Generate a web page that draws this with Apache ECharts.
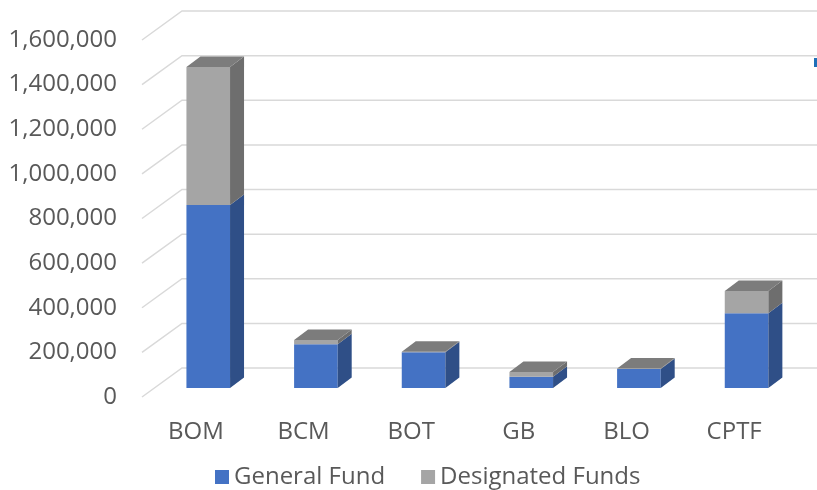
<!DOCTYPE html>
<html>
<head>
<meta charset="utf-8">
<script src="https://cdn.jsdelivr.net/npm/echarts@6/dist/echarts.min.js"></script>
<style>
  html, body { margin: 0; padding: 0; background: #fff; }
  #main { width: 817px; height: 490px; }
</style>
</head>
<body>
<div id="main"></div>
<script>
var categories = ['BOM', 'BCM', 'BOT', 'GB', 'BLO', 'CPTF'];
var generalFund = [820000, 196000, 160000, 50000, 85000, 335000];
var designatedFunds = [619000, 19000, 3000, 22000, 2000, 100000];
var yTicks = [0, 200000, 400000, 600000, 800000, 1000000, 1200000, 1400000, 1600000];

// 3d look: bars sit a bit behind the label plane, wall is further back
var OX = 12.4, OY = 9;    // bar front offset
var DX = 14, DY = 10.5;   // bar depth
var WX = 40, WY = 29;     // back wall offset

function fmt(v) {
    return String(v).replace(/\B(?=(\d{3})+(?!\d))/g, ',');
}

function boxItem(api, i, lo, hi, front, side, top) {
    var base = api.coord([i, 0]);
    var bw = api.size([1, 0])[0] * 0.405;
    var cx = base[0] + OX;
    var yb = api.coord([i, lo])[1] - OY;
    var yt = api.coord([i, hi])[1] - OY;
    var l = cx - bw / 2, r = cx + bw / 2;
    var kids = [
        {type: 'polygon', shape: {points: [[l, yt], [r, yt], [r, yb], [l, yb]]}, style: {fill: front}},
        {type: 'polygon', shape: {points: [[r, yt], [r + DX, yt - DY], [r + DX, yb - DY], [r, yb]]}, style: {fill: side}}
    ];
    if (top) {
        kids.push({type: 'polygon', shape: {points: [[l, yt], [l + DX, yt - DY], [r + DX, yt - DY], [r, yt]]}, style: {fill: top}});
    }
    return {type: 'group', children: kids};
}

var myChart = echarts.init(document.getElementById('main'));

var option = {
    animation: false,
    textStyle: {fontFamily: 'Open Sans'},
    grid: {left: 142, right: 29, top: 40, bottom: 93},
    xAxis: {
        type: 'category',
        data: categories,
        axisLine: {show: false},
        axisTick: {show: false},
        axisLabel: {fontSize: 24, color: '#595959', margin: 23, fontFamily: 'Open Sans'}
    },
    yAxis: {
        type: 'value',
        min: 0,
        max: 1600000,
        interval: 200000,
        axisLine: {show: false},
        axisTick: {show: false},
        splitLine: {show: false},
        axisLabel: {fontSize: 24, color: '#595959', margin: 25, fontFamily: 'Open Sans', formatter: fmt}
    },
    legend: {
        left: 215,
        top: 465,
        padding: 0,
        itemWidth: 14,
        itemHeight: 14,
        itemGap: 36,
        icon: 'rect',
        textStyle: {fontSize: 24, color: '#595959', fontFamily: 'Open Sans'},
        data: ['General Fund', 'Designated Funds']
    },
    graphic: [{type: 'rect', shape: {x: 814, y: 58, width: 3, height: 9}, style: {fill: '#1f6fb8'}}],
    series: [{
        // wall grid lines
        type: 'custom',
        silent: true,
        z: 1,
        data: yTicks.map(function (v) { return [0, v]; }),
        renderItem: function (params, api) {
            var x0 = params.coordSys.x;
            var y = api.coord([0, api.value(1)])[1];
            return {
                type: 'polyline',
                shape: {points: [[x0, y], [x0 + WX, y - WY], [params.coordSys.x + params.coordSys.width + WX + 20, y - WY]]},
                style: {stroke: '#d9d9d9', lineWidth: 1.5, fill: null}
            };
        }
    }, {
        name: 'General Fund',
        type: 'custom',
        z: 2,
        itemStyle: {color: '#4472c4'},
        data: generalFund.map(function (v, i) { return [i, v]; }),
        renderItem: function (params, api) {
            var i = api.value(0);
            return boxItem(api, i, 0, api.value(1), '#4472c4', '#2f4f87', null);
        }
    }, {
        name: 'Designated Funds',
        type: 'custom',
        z: 3,
        itemStyle: {color: '#a5a5a5'},
        data: designatedFunds.map(function (v, i) { return [i, v, generalFund[i]]; }),
        renderItem: function (params, api) {
            var i = api.value(0);
            var lo = api.value(2);
            return boxItem(api, i, lo, lo + api.value(1), '#a5a5a5', '#6e6e6e', '#7c7c7c');
        }
    }]
};

myChart.setOption(option);
</script>
</body>
</html>
